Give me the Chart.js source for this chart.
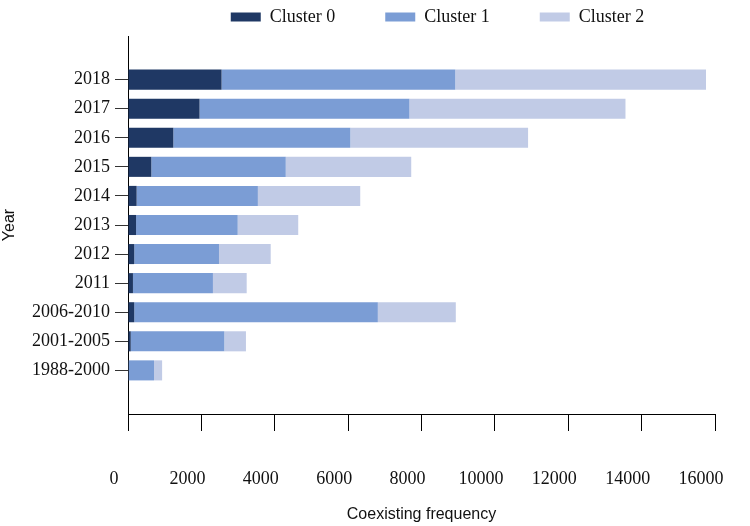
<!DOCTYPE html>
<html>
<head>
<meta charset="utf-8">
<title>Coexisting frequency by year</title>
<script src="https://cdn.jsdelivr.net/npm/chart.js"></script>
<style>
  body { margin: 0; background: #fff; }
</style>
</head>
<body>
<canvas id="freq-chart" width="750" height="526"></canvas>
<script>
const years = ['2018', '2017', '2016', '2015', '2014', '2013', '2012', '2011',
  '2006-2010', '2001-2005', '1988-2000'];
const cluster0 = [2550, 1950, 1235, 635, 235, 220, 170, 135, 170, 75, 20];
const cluster1 = [6370, 5720, 4825, 3665, 3305, 2770, 2310, 2180, 6640, 2550, 690];
const cluster2 = [6835, 5890, 4845, 3420, 2790, 1650, 1410, 920, 2125, 590, 220];
const xMax = 16000;
const xStep = 2000;

// an empty slot above and below leaves the gap at both ends of the year axis
const yLabels = [''].concat(years, ['']);
const withGaps = arr => [null].concat(arr, [null]);

const serif = { family: "'Liberation Serif', 'Times New Roman', serif", size: 18 };
const sans = { family: "'Liberation Sans', Arial, sans-serif", size: 16 };

// legend sits a little right of the plot centre in the original
const nudgeLegend = {
  id: 'nudgeLegend',
  afterLayout(chart) {
    chart.legend.left += 16;
    chart.legend.right += 16;
  }
};

const freqCanvas = document.getElementById('freq-chart');

const freqData = {
  labels: yLabels,
  datasets: [{
    label: 'Cluster 0',
    data: withGaps(cluster0),
    backgroundColor: '#1f3864',
    borderWidth: 0
  }, {
    label: 'Cluster 1',
    data: withGaps(cluster1),
    backgroundColor: '#7b9dd5',
    borderWidth: 0
  }, {
    label: 'Cluster 2',
    data: withGaps(cluster2),
    backgroundColor: '#c1cbe6',
    borderWidth: 0
  }]
};

const freqOptions = {
  indexAxis: 'y',
  responsive: false,
  animation: false,
  categoryPercentage: 1,
  barPercentage: 0.69,
  layout: {
    padding: { top: -42, right: 35, bottom: 0, left: 0 }
  },
  scales: {
    x: {
      stacked: true,
      min: 0,
      max: xMax,
      grid: { drawOnChartArea: false, tickLength: 17, color: '#000' },
      border: { color: '#000' },
      ticks: {
        stepSize: xStep,
        padding: 37,
        labelOffset: -14,
        maxRotation: 0,
        color: '#111',
        font: serif,
        callback: v => String(v)
      },
      title: {
        display: true,
        text: 'Coexisting frequency',
        color: '#111',
        font: sans,
        padding: { top: 0, bottom: 2 }
      },
      afterFit: s => {
        s.height = 112;
        // the big label gap should not widen the side margins
        s.paddingLeft = 0;
        s.paddingRight = 0;
      }
    },
    y: {
      stacked: true,
      offset: true,
      grid: {
        offset: false,
        drawOnChartArea: false,
        tickLength: 13,
        color: c => (c.tick && c.tick.label ? '#333' : 'rgba(0,0,0,0)')
      },
      border: { color: '#000' },
      ticks: { padding: 5, autoSkip: false, color: '#111', font: serif },
      title: {
        display: true,
        text: 'Year',
        color: '#111',
        font: sans,
        padding: { top: 0, bottom: 0 }
      },
      afterFit: s => { s.width = 128; }
    }
  },
  plugins: {
    legend: {
      position: 'top',
      fullSize: false,
      labels: {
        boxWidth: 30,
        boxHeight: 9,
        padding: 50,
        color: '#111',
        font: serif
      }
    },
    tooltip: { enabled: false }
  }
};

let freqChart = new Chart(freqCanvas, {
  type: 'bar',
  data: freqData,
  options: freqOptions,
  plugins: [nudgeLegend]
});
</script>
</body>
</html>
